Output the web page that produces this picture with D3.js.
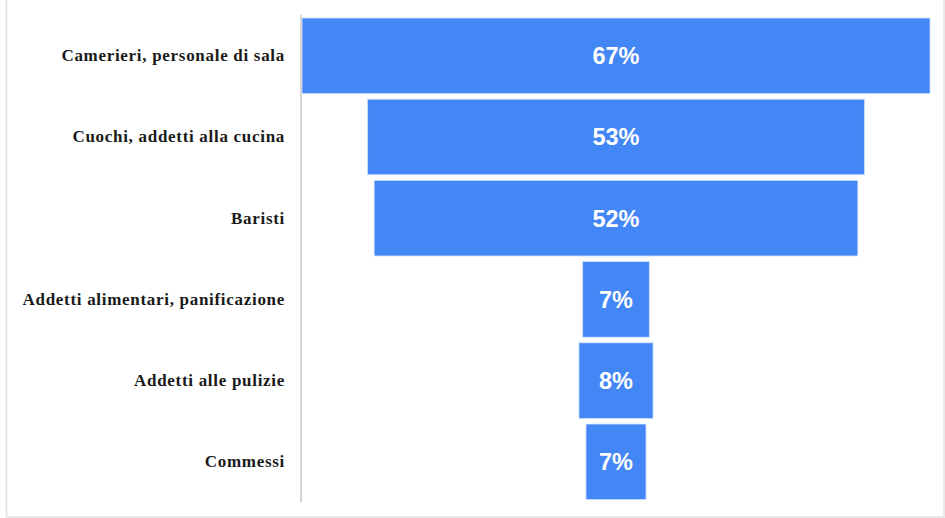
<!DOCTYPE html>
<html>
<head>
<meta charset="utf-8">
<script src="https://cdn.jsdelivr.net/npm/d3@7"></script>
<style>
  html, body { margin: 0; padding: 0; background: #ffffff; }
  svg { display: block; }
</style>
</head>
<body>
<svg id="chart" width="945" height="518"></svg>
<script>
// ---- Data ----
const categories = [
  "Camerieri, personale di sala",
  "Cuochi, addetti alla cucina",
  "Baristi",
  "Addetti alimentari, panificazione",
  "Addetti alle pulizie",
  "Commessi"
];
const values = [67, 53, 51.6, 7.1, 7.9, 6.4];
const valueLabels = ["67%", "53%", "52%", "7%", "8%", "7%"];

// ---- Layout ----
const W = 945, H = 518;
const svg = d3.select("#chart");

// frame
svg.append("rect")
  .attr("x", 6.5).attr("y", -2)
  .attr("width", 937.5).attr("height", 519)
  .attr("fill", "none")
  .attr("stroke", "#e2e2e2")
  .attr("stroke-width", 1.5);

const plotLeft = 302, plotRight = 930;
const center = (plotLeft + plotRight) / 2;

const x = d3.scaleLinear()
  .domain([0, d3.max(values)])
  .range([0, plotRight - plotLeft]);

const y = d3.scaleBand()
  .domain(categories)
  .range([15.2, 502.4])
  .paddingInner(0.07)
  .paddingOuter(0.035);

// bars
svg.append("g").selectAll("rect")
  .data(values)
  .join("rect")
  .attr("x", d => center - x(d) / 2)
  .attr("y", (d, i) => y(categories[i]))
  .attr("width", d => x(d))
  .attr("height", y.bandwidth())
  .attr("fill", "#4386f5")
  .attr("stroke", "#c9dcfb")
  .attr("stroke-width", 0.8);

// value labels
svg.append("g").selectAll("text")
  .data(valueLabels)
  .join("text")
  .attr("x", center)
  .attr("y", (d, i) => y(categories[i]) + y.bandwidth() / 2)
  .attr("dy", "0.36em")
  .attr("text-anchor", "middle")
  .attr("fill", "#ffffff")
  .attr("font-family", "'Liberation Sans', Arial, sans-serif")
  .attr("font-weight", "bold")
  .attr("font-size", 23.5)
  .text(d => d);

// axis (left, category labels)
const axis = d3.axisLeft(y).tickSize(0).tickPadding(16);
const ag = svg.append("g")
  .attr("transform", `translate(301,0)`)
  .call(axis);
ag.select(".domain")
  .attr("stroke", "#d6d6d6")
  .attr("stroke-width", 2)
  .attr("d", "M0,15V502");
ag.selectAll("text")
  .attr("font-family", "'Liberation Serif', 'Times New Roman', serif")
  .attr("font-weight", "bold")
  .attr("font-size", 17)
  .attr("letter-spacing", "0.7px")
  .attr("fill", "#1a1a1a");
</script>
</body>
</html>
